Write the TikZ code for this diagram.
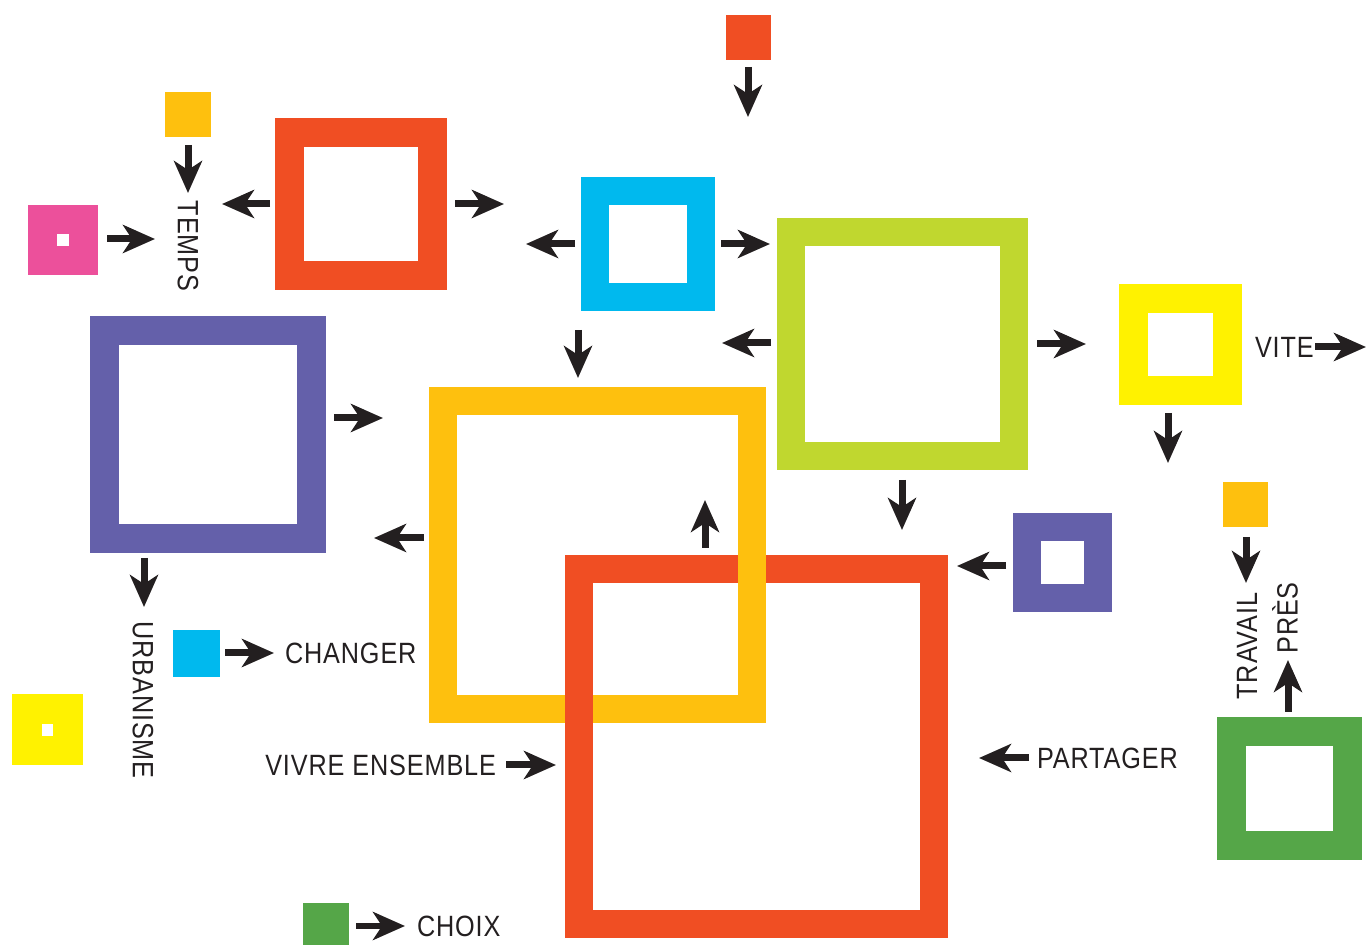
\documentclass[tikz,border=0pt]{standalone}
\usepackage{fontspec}
\setmainfont[FakeStretch=0.86, LetterSpace=3]{Liberation Sans}
\usetikzlibrary{arrows.meta}
\definecolor{redor}{RGB}{240,78,35}
\definecolor{gold}{RGB}{254,192,14}
\definecolor{cyanb}{RGB}{0,185,238}
\definecolor{lime}{RGB}{192,215,47}
\definecolor{yell}{RGB}{255,242,0}
\definecolor{purp}{RGB}{100,96,170}
\definecolor{grn}{RGB}{85,166,72}
\definecolor{pink}{RGB}{236,80,155}
\definecolor{ink}{RGB}{35,31,32}
% framed square: name, colour, x1, y1, x2, y2, thickness (pixels)
\newcommand\fsq[7]{%
  \node[draw=#2, line width={#7*0.02cm}, inner sep=0pt, outer sep=0pt,
        minimum width={(#5-#3-#7)*0.02cm}, minimum height={(#6-#4-#7)*0.02cm}]
        (#1) at ({(#3+#5)/2},{(#4+#6)/2}) {};}
% solid square: name, colour, x1, y1, x2, y2
\newcommand\ssq[6]{%
  \node[fill=#2, inner sep=0pt, outer sep=0pt,
        minimum width={(#5-#3)*0.02cm}, minimum height={(#6-#4)*0.02cm}]
        (#1) at ({(#3+#5)/2},{(#4+#6)/2}) {};}
% arrow: name, start, tip
\newcommand\arw[3]{%
  \coordinate (#1s) at (#2); \coordinate (#1e) at (#3);
  \draw[blackarrow] (#1s) -- (#1e);}
\tikzset{
  blackarrow/.style={draw=ink, line width=0.14cm,
    -{Stealth[length=0.64cm, width=0.56cm, inset=0.18cm]}},
  lbl/.style={text=ink, font=\fontsize{16.7}{18}\selectfont, inner sep=0pt, outer sep=0pt}
}
\begin{document}
\begin{tikzpicture}[x=0.02cm, y=-0.02cm]
\useasboundingbox (0,0) rectangle (1367,945);
% small solid squares
\ssq{topred}{redor}{726}{15}{771}{60}
\ssq{goldA}{gold}{165}{92}{211}{137}
\ssq{pinksq}{pink}{28}{205}{98}{275}
\ssq{pinkdot}{white}{57}{234}{69}{246}
\ssq{goldB}{gold}{1223}{482}{1268}{527}
\ssq{cyansm}{cyanb}{173}{630}{220}{677}
\ssq{yellsm}{yell}{12}{694}{83}{765}
\ssq{yelldot}{white}{42}{724}{53}{736}
\ssq{grnsm}{grn}{303}{903}{349}{945}
% framed squares
\fsq{redA}{redor}{275}{118}{447}{290}{29}
\fsq{cyanF}{cyanb}{581}{177}{715}{311}{28}
\fsq{limeF}{lime}{777}{218}{1028}{470}{28}
\fsq{yellF}{yell}{1119}{284}{1242}{405}{29}
\fsq{purpA}{purp}{90}{316}{326}{553}{29}
\fsq{purpB}{purp}{1013}{513}{1112}{612}{28}
\fsq{grnF}{grn}{1217}{717}{1362}{860}{29}
\fsq{goldF}{gold}{429}{387}{766}{723}{28}
\fsq{redB}{redor}{565}{555}{948}{938}{28}
% weave: gold over red at the top right crossing
\fill[gold] (738,555) rectangle (766,583);
% labels
\node[lbl, rotate=-90] (temps) at (188,246) {TEMPS};
\node[lbl, rotate=-90] (urb) at (143,700) {URBANISME};
\node[lbl, rotate=90] (travail) at (1247,646) {TRAVAIL};
\node[lbl, rotate=90] (pres) at (1285,618) {PRÈS};
\node[lbl, anchor=west] (vite) at (1255,347) {VITE};
\node[lbl, anchor=west] (changer) at (285,653) {CHANGER};
\node[lbl, anchor=east] (vivre) at (496,765) {VIVRE ENSEMBLE};
\node[lbl, anchor=west] (partager) at (1037,758) {PARTAGER};
\node[lbl, anchor=west] (choix) at (417,926) {CHOIX};
% arrows
\arw{a1}{748,67}{748,117}
\arw{a2}{188,145}{188,193}
\arw{a3}{107,239}{155,239}
\arw{a4}{270,204}{222,204}
\arw{a5}{455,204}{504,204}
\arw{a6}{575,244}{526,244}
\arw{a7}{721,244}{770,244}
\arw{a8}{578,330}{578,378}
\arw{a9}{771,343}{722,343}
\arw{a10}{1037,344}{1086,344}
\arw{a11}{902,480}{902,530}
\arw{a12}{1315,347}{1366,347}
\arw{a13}{1168,413}{1168,463}
\arw{a14}{1246,537}{1246,583}
\arw{a15}{1288,712}{1288,660}
\arw{a16}{1006,566}{957,566}
\arw{a17}{1029,758}{979,758}
\arw{a18}{705,548}{705,500}
\arw{a19}{424,538}{374,538}
\arw{a20}{334,418}{383,418}
\arw{a21}{144,558}{144,607}
\arw{a22}{225,653}{274,653}
\arw{a23}{506,765}{556,765}
\arw{a24}{356,926}{405,926}
\end{tikzpicture}
\end{document}
